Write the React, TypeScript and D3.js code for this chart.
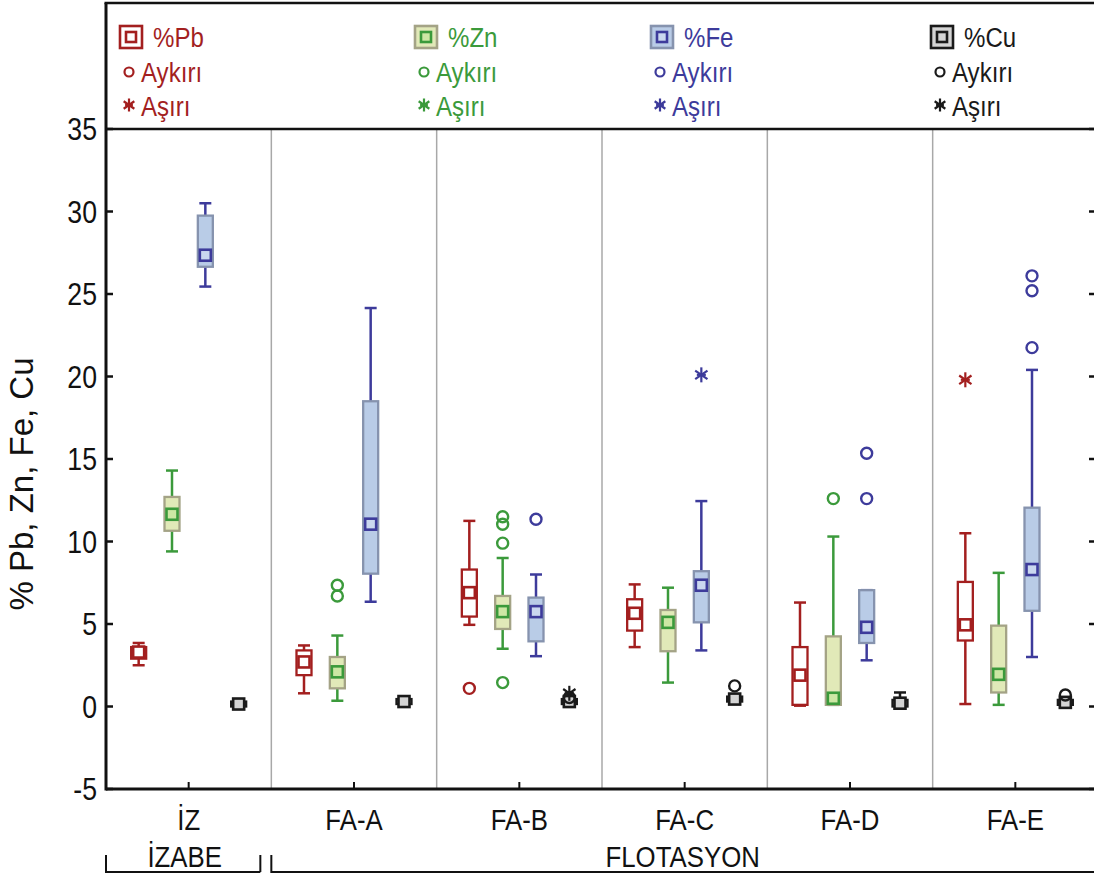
import React from "react";
import * as d3 from "d3";

// categories along the x axis and the two process groups
const categories = ["İZ", "FA-A", "FA-B", "FA-C", "FA-D", "FA-E"];
const groupLabels = ["İZABE", "FLOTASYON"];
const groupStart = [0, 1];
const groupEnd = [0, 5];
const seriesNames = ["%Pb", "%Zn", "%Fe", "%Cu"];
const yTicks = [-5, 0, 5, 10, 15, 20, 25, 30, 35];

// [min, q1, median, q3, max] per category
const pbStats = [
  [2.5, 2.9, 3.3, 3.6, 3.85],
  [0.8, 1.9, 2.7, 3.4, 3.7],
  [4.95, 5.45, 6.9, 8.3, 11.25],
  [3.6, 4.6, 5.65, 6.5, 7.4],
  [0.05, 0.1, 1.9, 3.6, 6.3],
  [0.15, 4.0, 4.95, 7.55, 10.5],
];
const znStats = [
  [9.4, 10.65, 11.65, 12.7, 14.3],
  [0.35, 1.1, 2.1, 3.0, 4.3],
  [3.5, 4.7, 5.75, 6.7, 9.0],
  [1.45, 3.35, 5.1, 5.85, 7.2],
  [0.1, 0.1, 0.5, 4.25, 10.3],
  [0.1, 0.85, 1.95, 4.9, 8.1],
];
const feStats = [
  [25.45, 26.65, 27.35, 29.75, 30.5],
  [6.35, 8.05, 11.05, 18.5, 24.15],
  [3.05, 3.95, 5.75, 6.6, 8.0],
  [3.4, 5.1, 7.35, 8.2, 12.45],
  [2.8, 3.85, 4.8, 7.05, 7.05],
  [3.0, 5.8, 8.3, 12.05, 20.4],
];
const cuStats = [
  [0.0, 0.0, 0.15, 0.3, 0.3],
  [0.15, 0.15, 0.3, 0.45, 0.45],
  [0.15, 0.15, 0.3, 0.45, 0.5],
  [0.3, 0.3, 0.45, 0.6, 0.6],
  [0.0, 0.0, 0.2, 0.4, 0.85],
  [0.1, 0.1, 0.25, 0.4, 0.4],
];

// Aykırı (outliers) and Aşırı (extremes)
const pbOutliers = [[], [], [1.1], [], [], []];
const pbExtremes = [[], [], [], [], [], [19.8]];
const znOutliers = [[], [7.35, 6.7], [11.5, 11.05, 9.9, 1.45], [], [12.6], []];
const znExtremes = [[], [], [], [], [], []];
const feOutliers = [[], [], [11.35], [], [15.35, 12.6], [26.1, 25.2, 21.75]];
const feExtremes = [[], [], [], [20.1], [], []];
const cuOutliers = [[], [], [0.55], [1.25], [], [0.7]];
const cuExtremes = [[], [], [0.8], [], [], []];

const seriesStats = [pbStats, znStats, feStats, cuStats];
const seriesOutliers = [pbOutliers, znOutliers, feOutliers, cuOutliers];
const seriesExtremes = [pbExtremes, znExtremes, feExtremes, cuExtremes];

const styles = [
  { color: "#a31f1f", fill: "#ffffff", stroke: "#a31f1f", med: "#ffffff" },
  { color: "#3b9a3b", fill: "#e1e9b8", stroke: "#a4a386", med: "#cde7a4" },
  { color: "#3d3b9b", fill: "#b9cce7", stroke: "#8693ae", med: "#cad7ef" },
  { color: "#1a1a1a", fill: "#d4d4d4", stroke: "#1a1a1a", med: "#d4d4d4" },
];

const W = 1094;
const H = 876;
const left = 106;
const right = 1098;
const top = 129;
const bottom = 789;
const FONT = "'Liberation Sans', Arial, Helvetica, sans-serif";
const SX = 0.86;

const Txt = ({ x, y, size, anchor = "start", fill = "#111", rotate = 0, sx = SX, children }: any) => (
  <text
    transform={`translate(${x},${y}) rotate(${rotate}) scale(${sx},1)`}
    fontSize={size}
    fontFamily={FONT}
    textAnchor={anchor}
    fill={fill}
  >
    {children}
  </text>
);

const Star = ({ x, y, r, color }: any) => (
  <g stroke={color} strokeWidth={2.2}>
    {[90, 35, 145].map(a => {
      const dx = r * Math.cos((a * Math.PI) / 180);
      const dy = r * Math.sin((a * Math.PI) / 180);
      return <line key={a} x1={x - dx} y1={y - dy} x2={x + dx} y2={y + dy} />;
    })}
    <line x1={x - r * 0.6} y1={y} x2={x + r * 0.6} y2={y} />
  </g>
);

export default function App() {
  const x = d3.scaleBand<string>().domain(categories).range([left, right]).padding(0);
  const off = d3.scalePoint<string>().domain(seriesNames).range([-50, 50]);
  const y = d3.scaleLinear().domain([-5, 35]).range([bottom, top]);
  const bw = 15;
  const cap = 6;

  const cx = (ci: number) => (x(categories[ci]) as number) + x.bandwidth() / 2;

  return (
    <svg
      width={W}
      height={H}
      style={{ position: "absolute", left: 0, top: 0, background: "#fff" }}
    >
      {/* group separators */}
      {categories.slice(1).map(c => (
        <line key={c} x1={x(c)} x2={x(c)} y1={top} y2={bottom} stroke="#a8a8a8" strokeWidth={1.5} />
      ))}

      {/* boxes */}
      {seriesNames.map((s, si) => {
        const st = styles[si];
        return (
          <g key={s}>
            {categories.map((c, ci) => {
              const [mn, q1, md, q3, mx] = seriesStats[si][ci];
              const px = cx(ci) + (off(s) as number);
              return (
                <g key={c}>
                  <line x1={px} x2={px} y1={y(mx)} y2={y(q3)} stroke={st.color} strokeWidth={2.5} />
                  <line x1={px} x2={px} y1={y(q1)} y2={y(mn)} stroke={st.color} strokeWidth={2.5} />
                  <line x1={px - cap} x2={px + cap} y1={y(mx)} y2={y(mx)} stroke={st.color} strokeWidth={2.5} />
                  <line x1={px - cap} x2={px + cap} y1={y(mn)} y2={y(mn)} stroke={st.color} strokeWidth={2.5} />
                  <rect
                    x={px - bw / 2}
                    y={y(q3)}
                    width={bw}
                    height={Math.max(y(q1) - y(q3), 2)}
                    fill={st.fill}
                    stroke={st.stroke}
                    strokeWidth={2.3}
                  />
                  <rect x={px - 5.5} y={y(md) - 5.5} width={11} height={11} fill={st.med} stroke={st.color} strokeWidth={2.6} />
                  {seriesOutliers[si][ci].map((v, k) => (
                    <circle key={k} cx={px} cy={y(v)} r={5.5} fill="none" stroke={st.color} strokeWidth={2.4} />
                  ))}
                  {seriesExtremes[si][ci].map((v, k) => (
                    <Star key={k} x={px} y={y(v)} r={7.5} color={st.color} />
                  ))}
                </g>
              );
            })}
          </g>
        );
      })}

      {/* axes frame */}
      <line x1={left} x2={W + 10} y1={bottom} y2={bottom} stroke="#111" strokeWidth={3} />
      <line x1={left} x2={left} y1={3} y2={bottom + 1.5} stroke="#111" strokeWidth={3} />
      <line x1={left} x2={W + 10} y1={top} y2={top} stroke="#111" strokeWidth={2.5} />
      <line x1={left - 1.5} x2={W + 10} y1={3} y2={3} stroke="#111" strokeWidth={2.5} />
      <line x1={right} x2={right} y1={3} y2={bottom} stroke="#111" strokeWidth={3} />

      {yTicks.map(t => (
        <g key={t}>
          <line x1={left} x2={left + 7} y1={y(t)} y2={y(t)} stroke="#111" strokeWidth={2.5} />
          <line x1={right - 9} x2={right} y1={y(t)} y2={y(t)} stroke="#111" strokeWidth={2.5} />
          <Txt x={left - 9} y={y(t) + 11} size={31} anchor="end">
            {t}
          </Txt>
        </g>
      ))}

      {categories.map((c, ci) => (
        <g key={c}>
          <line x1={cx(ci)} x2={cx(ci)} y1={bottom} y2={bottom - 7} stroke="#111" strokeWidth={2} />
          <Txt x={cx(ci)} y={bottom + 41} size={30} anchor="middle">
            {c}
          </Txt>
        </g>
      ))}

      <Txt x={33} y={484} size={33} anchor="middle" rotate={-90} sx={1}>
        % Pb, Zn, Fe, Cu
      </Txt>

      {/* group brackets */}
      {groupLabels.map((g, gi) => {
        const x0 = x(categories[groupStart[gi]]) as number;
        const x1 = (x(categories[groupEnd[gi]]) as number) + x.bandwidth();
        const b = gi === 0 ? x1 - 11 : x1 + 20;
        return (
          <g key={g}>
            <path d={`M${x0},855V872H${b}`} fill="none" stroke="#111" strokeWidth={2} />
            {gi === 0 && <line x1={b} x2={b} y1={855} y2={872} stroke="#111" strokeWidth={2} />}
            <Txt x={(x0 + Math.min(x1, W)) / 2 + (gi === 0 ? -4 : 0)} y={867} size={30} anchor="middle">
              {g}
            </Txt>
          </g>
        );
      })}

      {/* legend */}
      {seriesNames.map((s, si) => {
        const st = styles[si];
        const lx = [120, 415, 651, 931][si];
        return (
          <g key={s}>
            <rect x={lx} y={26} width={22} height={22} fill={st.fill} stroke={st.stroke} strokeWidth={2.6} />
            <rect x={lx + 6} y={32} width={10} height={10} fill={st.med} stroke={st.color} strokeWidth={2.6} />
            <Txt x={lx + 33} y={47} size={28} fill={st.color}>
              {s}
            </Txt>
            <circle cx={lx + 9} cy={72} r={4.5} fill="none" stroke={st.color} strokeWidth={2.2} />
            <Txt x={lx + 21} y={82} size={28} fill={st.color}>
              Aykırı
            </Txt>
            <Star x={lx + 9} y={105} r={6.5} color={st.color} />
            <Txt x={lx + 21} y={116} size={28} fill={st.color}>
              Aşırı
            </Txt>
          </g>
        );
      })}
    </svg>
  );
}
